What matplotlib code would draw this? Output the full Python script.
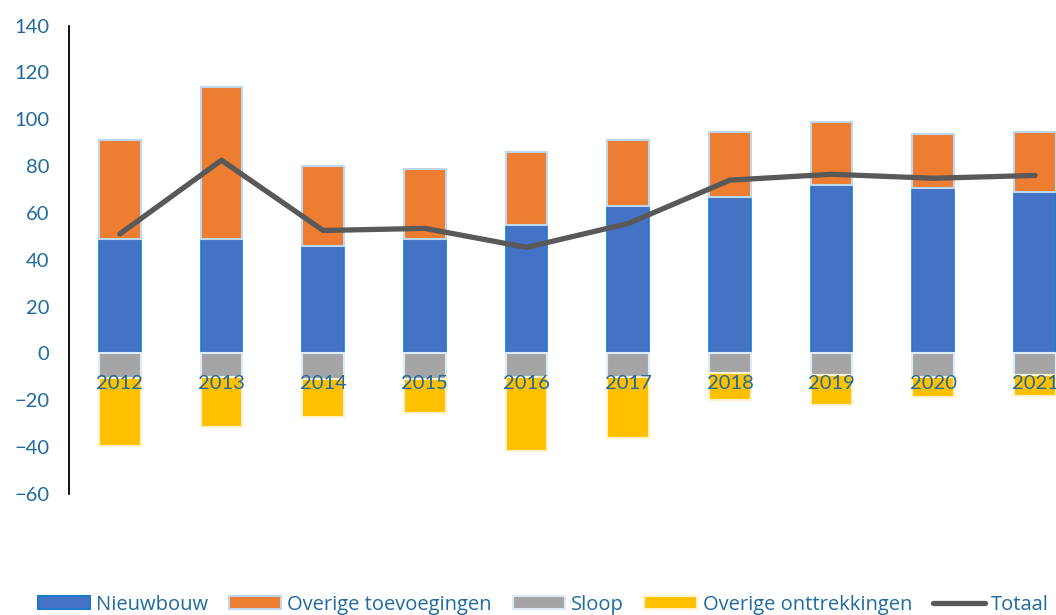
import numpy as np
import matplotlib
matplotlib.use("Agg")
import matplotlib.pyplot as plt
from matplotlib.patches import Patch
from matplotlib.lines import Line2D

##########

# values
jaren = ["2012", "2013", "2014", "2015", "2016", "2017", "2018", "2019", "2020", "2021"]
nieuwbouw = [48.7, 49.0, 45.7, 48.7, 54.7, 63.0, 66.7, 71.8, 70.5, 69.0]
overige_toevoegingen = [42.3, 64.7, 34.3, 29.9, 31.3, 28.0, 27.7, 26.9, 23.1, 25.4]
sloop = [-10.3, -10.0, -11.0, -11.0, -10.0, -10.0, -8.5, -9.0, -10.0, -9.4]
overige_onttrekkingen = [-29.4, -21.2, -16.0, -14.3, -31.5, -26.0, -11.5, -12.8, -8.4, -8.6]
totaal = [51.0, 82.5, 52.5, 53.4, 45.3, 55.5, 74.0, 76.5, 74.8, 76.0]

##########

plt.rcParams["font.family"] = ["Lato", "DejaVu Sans"]
tekstkleur = "#1F6A9E"

fig = plt.figure(figsize=(10.56, 6.15), dpi=100)
ax = fig.add_axes([0.0653, 0.1967, 0.963, 0.7618])

x = np.arange(len(jaren))
breedte = 0.41
rand = "#BDD7EE"

ax.bar(x, nieuwbouw, breedte, color="#4472C4", edgecolor="#1F7ACC", linewidth=1.2, label="Nieuwbouw")
ax.bar(x, overige_toevoegingen, breedte, bottom=nieuwbouw, color="#ED7D31", edgecolor=rand,
       linewidth=1.5, label="Overige toevoegingen")
ax.bar(x, sloop, breedte, color="#A5A5A5", edgecolor="#DDEBF7", linewidth=1.5, label="Sloop")
ax.bar(x, overige_onttrekkingen, breedte, bottom=sloop, color="#FFC000", edgecolor="#FFF2CC",
       linewidth=1.5, label="Overige onttrekkingen")
ax.plot(x, totaal, color="#595959", linewidth=3.8, solid_capstyle="round", label="Totaal")

for i, jaar in enumerate(jaren):
    ax.text(x[i], -13, jaar, ha="center", va="center", fontsize=14.5, color=tekstkleur)

ax.set_xlim(-0.5, len(jaren) - 0.5)
ax.set_ylim(-60, 140)
ax.set_yticks(np.arange(-60, 141, 20))
ax.tick_params(axis="y", length=0, labelsize=14.5, labelcolor=tekstkleur, pad=14)
ax.set_xticks([])
for kant in ["top", "right", "bottom"]:
    ax.spines[kant].set_visible(False)
ax.spines["left"].set_linewidth(1.3)

handles = [
    Patch(facecolor="#4472C4", edgecolor="#1F7ACC", linewidth=1.5),
    Patch(facecolor="#ED7D31", edgecolor=rand, linewidth=1.5),
    Patch(facecolor="#A5A5A5", edgecolor="#DDEBF7", linewidth=1.5),
    Patch(facecolor="#FFC000", edgecolor="#FFF2CC", linewidth=1.5),
    Line2D([0], [0], color="#595959", linewidth=3.8, solid_capstyle="round"),
]
labels = ["Nieuwbouw", "Overige toevoegingen", "Sloop", "Overige onttrekkingen", "Totaal"]
fig.legend(handles, labels, loc="center left", bbox_to_anchor=(0.036, 0.017), ncol=5, frameon=False,
           prop={"family": ["Open Sans", "DejaVu Sans"], "size": 14.5}, labelcolor=tekstkleur,
           handlelength=2.6, handleheight=0.65, handletextpad=0.3, columnspacing=1.02,
           borderaxespad=0, borderpad=0)

fig.savefig("out.png", dpi=100)
